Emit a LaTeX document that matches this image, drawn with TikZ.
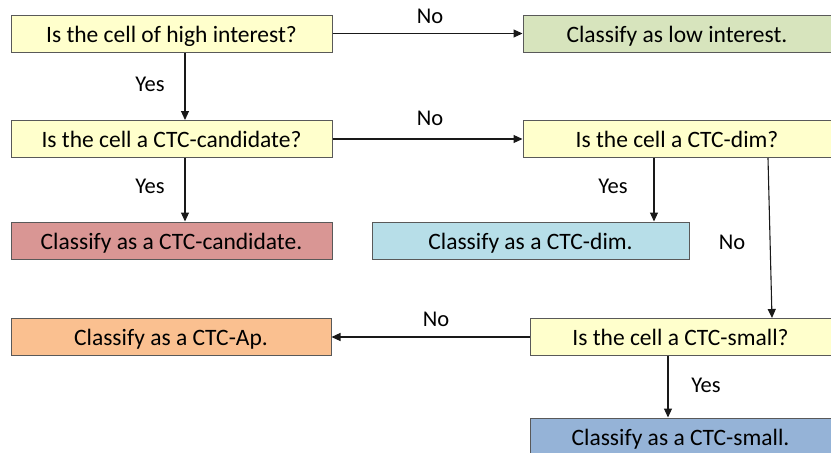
\documentclass[tikz,border=0pt]{standalone}
\usepackage{fontspec}
\setmainfont{Carlito}
\usetikzlibrary{arrows.meta,calc}
\definecolor{qyel}{HTML}{FFFFCC}
\definecolor{qgreen}{HTML}{D7E4BD}
\definecolor{qred}{HTML}{D99694}
\definecolor{qlblue}{HTML}{B7DEE8}
\definecolor{qorange}{HTML}{FAC090}
\definecolor{qblue}{HTML}{95B3D7}
\definecolor{qborder}{HTML}{595959}
\tikzset{
  box/.style={draw=qborder, line width=1pt, rectangle, minimum height=37pt, inner sep=0pt, font=\fontsize{23.5}{27}\selectfont, text=black, text height=17pt, text depth=0pt},
  lbl/.style={font=\fontsize{22.5}{26}\selectfont, text=black, inner sep=0pt},
  arr/.style={-{Triangle[length=9pt,width=8pt]}, line width=1.1pt, draw=black!90},
}
\begin{document}
\begin{tikzpicture}[x=1pt,y=-1pt]
\useasboundingbox (0,0) rectangle (831,453);
\node[box, fill=qyel, minimum width=321pt] (B1) at (171.5,33.5) {Is the cell of high interest?};
\node[box, fill=qgreen, minimum width=308pt] (B2) at (677,33.5) {Classify as low interest.};
\node[box, fill=qyel, minimum width=321pt] (B3) at (171.5,139) {Is the cell a CTC-candidate?};
\node[box, fill=qred, minimum width=321pt] (B4) at (171.5,240.5) {Classify as a CTC-candidate.};
\node[box, fill=qyel, minimum width=308pt] (B5) at (677,139) {Is the cell a CTC-dim?};
\node[box, fill=qlblue, minimum width=317pt] (B6) at (530.5,240.5) {Classify as a CTC-dim.};
\node[box, fill=qorange, minimum width=320pt] (B7) at (171,337) {Classify as a CTC-Ap.};
\node[box, fill=qyel, minimum width=301pt] (B8) at (680.5,337) {Is the cell a CTC-small?};
\node[box, fill=qblue, minimum width=301pt] (B9) at (680.5,436.5) {Classify as a CTC-small.};

\draw[arr] (B1.east) -- (B2.west);
\draw[arr] ([xshift=13.5pt]B1.south) -- ([xshift=13.5pt]B3.north);
\draw[arr] (B3.east) -- (B5.west);
\draw[arr] ([xshift=13.5pt]B3.south) -- ([xshift=13.5pt]B4.north);
\draw[arr] ([xshift=-23pt]B5.south) -- ([xshift=-23pt]B5.south |- B6.north);
\draw[arr] ([xshift=91pt]B5.south) -- ([xshift=91.5pt]B8.north);
\draw[arr] (B8.west) -- (B7.east);
\draw[arr] ([xshift=-12.5pt]B8.south) -- ([xshift=-12.5pt]B9.north);

\node[lbl] (L1) at (430,16) {No};
\node[lbl] (L2) at (150,84) {Yes};
\node[lbl] (L3) at (430,118) {No};
\node[lbl] (L4) at (150,186) {Yes};
\node[lbl] (L5) at (613,186) {Yes};
\node[lbl] (L6) at (732,242) {No};
\node[lbl] (L7) at (436,319) {No};
\node[lbl] (L8) at (706,385) {Yes};
\end{tikzpicture}
\end{document}
